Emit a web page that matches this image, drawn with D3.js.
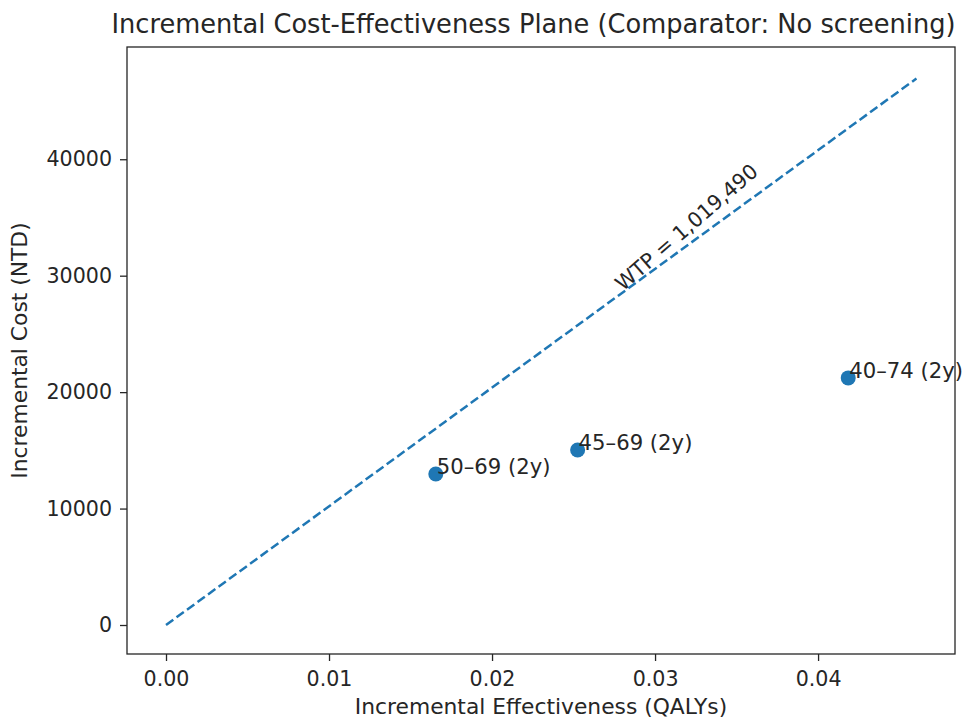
<!DOCTYPE html>
<html><head><meta charset="utf-8">
<script src="https://cdn.jsdelivr.net/npm/d3@7"></script>
<style>body{margin:0;background:#fff}text{font-family:"DejaVu Sans",sans-serif;fill:#262626}</style>
</head><body>
<svg id="c" width="970" height="722"></svg>
<script>
const labels = ["50–69 (2y)", "45–69 (2y)", "40–74 (2y)"];
const effects = [0.01655, 0.02525, 0.04185];
const costs = [12970, 15030, 21220];
const wtp = 1019490;
const xTicks = [0, 0.01, 0.02, 0.03, 0.04];
const yTicks = [0, 10000, 20000, 30000, 40000];

const svg = d3.select("#c");
const L = 127, R = 955, T = 47, B = 654;
const xMaxLine = d3.max(effects) * 1.1;
const x = d3.scaleLinear().domain([-0.002393, 0.04840]).range([L, R]);
const y = d3.scaleLinear().domain([-2490, 49640]).range([B, T]);

// axes
const xa = svg.append("g").attr("transform", `translate(0,${B})`)
  .call(d3.axisBottom(x).tickValues(xTicks).tickFormat(d3.format(".2f")).tickSize(7).tickPadding(10));
const ya = svg.append("g").attr("transform", `translate(${L},0)`)
  .call(d3.axisLeft(y).tickValues(yTicks).tickFormat(d3.format("d")).tickSize(7).tickPadding(8));
[xa, ya].forEach(g => {
  g.select(".domain").remove();
  g.selectAll("line").attr("stroke", "#262626").attr("stroke-width", 1.3);
  g.selectAll("text").style("font-size", "20.6px").style("font-family", "DejaVu Sans").attr("fill", "#262626");
});
svg.append("rect").attr("x", L).attr("y", T).attr("width", R - L).attr("height", B - T)
  .attr("fill", "none").attr("stroke", "#262626").attr("stroke-width", 1.3);

// WTP line
const lineData = [[0, 0], [xMaxLine, wtp * xMaxLine]];
svg.append("path").attr("d", d3.line().x(d => x(d[0])).y(d => y(d[1]))(lineData))
  .attr("stroke", "#1f77b4").attr("stroke-width", 2.5).attr("fill", "none")
  .attr("stroke-dasharray", "9,4");

// WTP label
const lx = xMaxLine * 0.6, ly = wtp * lx;
svg.append("text").attr("transform", `translate(${x(lx) + 71},${y(ly) - 69}) rotate(-41)`)
  .attr("text-anchor", "middle").attr("dominant-baseline", "middle")
  .style("font-size", "20.6px").text("WTP = " + d3.format(",")(wtp));

// points
svg.selectAll("circle.pt").data(effects).join("circle").attr("class", "pt")
  .attr("cx", (d) => x(d)).attr("cy", (d, i) => y(costs[i])).attr("r", 7.5).attr("fill", "#1f77b4");
svg.selectAll("text.pl").data(labels).join("text").attr("class", "pl")
  .attr("x", (d, i) => x(effects[i]) + 1).attr("y", (d, i) => y(costs[i]))
  .style("font-size", "21.2px").text(d => d);

// titles
svg.append("text").attr("x", 533.5).attr("y", 33).attr("text-anchor", "middle")
  .style("font-size", "25.7px").text("Incremental Cost-Effectiveness Plane (Comparator: No screening)");
svg.append("text").attr("x", (L + R) / 2).attr("y", 714).attr("text-anchor", "middle")
  .style("font-size", "21.8px").text("Incremental Effectiveness (QALYs)");
svg.append("text").attr("transform", `translate(27,${(T + B) / 2}) rotate(-90)`).attr("text-anchor", "middle")
  .style("font-size", "21.8px").text("Incremental Cost (NTD)");
</script>
</body></html>
